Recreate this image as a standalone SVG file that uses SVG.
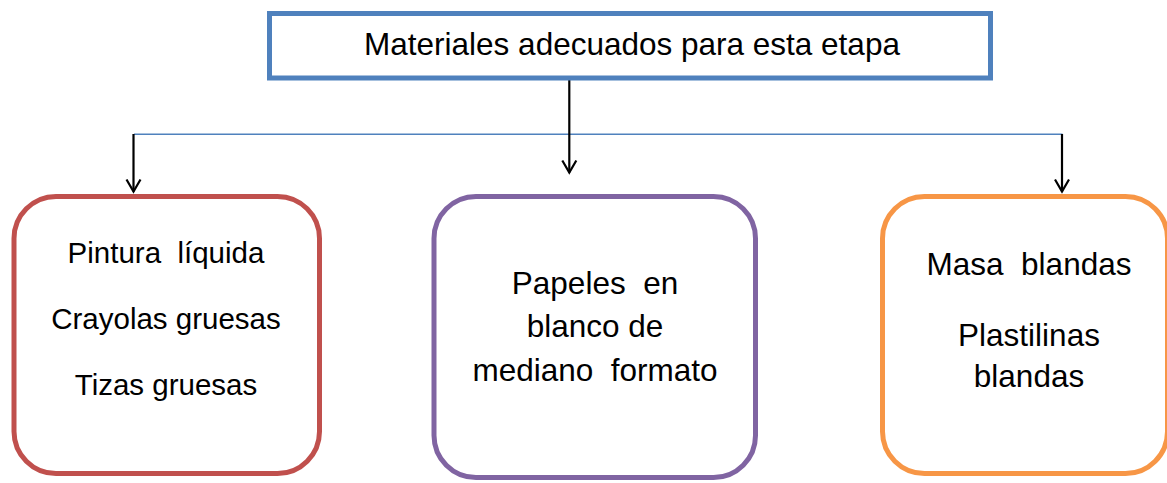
<svg xmlns="http://www.w3.org/2000/svg" width="1167" height="483" viewBox="0 0 1167 483">
  <style>
    .t { font-family: "Liberation Sans", Arial, sans-serif; fill: #000; text-anchor: middle; }
    .title { font-size: 31.5px; }
    .lbl { font-size: 29.5px; }
    .lbl2 { font-size: 31.5px; }
    .box { fill: #fff; stroke-width: 5; }
    .arrow { fill: none; stroke: #000; stroke-width: 2.2; marker-end: url(#vhead); }
    .bus { fill: none; stroke: #4F81BD; stroke-width: 1.6; }
  </style>
  <defs>
    <marker id="vhead" markerUnits="userSpaceOnUse" viewBox="-14 -9 16 18" refX="0" refY="0" markerWidth="16" markerHeight="18" orient="auto" overflow="visible">
      <path d="M-12,-7 L0,0 L-12,7" fill="none" stroke="#000" stroke-width="2.2" stroke-linejoin="miter"/>
    </marker>
  </defs>
  <rect width="1167" height="483" fill="#fff"/>

  <g id="connectors">
    <line class="bus" x1="134" y1="134.3" x2="1062.5" y2="134.3"/>
    <path class="arrow" d="M569.3,80 L569.3,172.5"/>
    <path class="arrow" d="M133.5,134 L133.5,191.5"/>
    <path class="arrow" d="M1062,134 L1062,191.5"/>
  </g>

  <g id="node-title">
    <rect class="box" x="269.5" y="13.5" width="721" height="64.5" stroke="#4F81BD"/>
    <text class="t title" x="632" y="55">Materiales adecuados para esta etapa</text>
  </g>

  <g id="node-pintura">
    <rect class="box" x="14" y="196.5" width="305.5" height="277" rx="42" ry="42" stroke="#C0504D"/>
    <text class="t lbl" x="166" y="263" xml:space="preserve">Pintura  líquida</text>
    <text class="t lbl" x="166" y="329">Crayolas gruesas</text>
    <text class="t lbl" x="166" y="395">Tizas gruesas</text>
  </g>

  <g id="node-papeles">
    <rect class="box" x="434" y="196.5" width="321.5" height="281" rx="42" ry="42" stroke="#8064A2"/>
    <text class="t lbl2" x="595" y="294" xml:space="preserve">Papeles  en</text>
    <text class="t lbl2" x="595" y="337">blanco de</text>
    <text class="t lbl2" x="595" y="381" xml:space="preserve">mediano  formato</text>
  </g>

  <g id="node-masa">
    <rect class="box" x="882.5" y="196.5" width="285" height="277" rx="42" ry="42" stroke="#F79646"/>
    <text class="t lbl2" x="1029" y="275" xml:space="preserve">Masa  blandas</text>
    <text class="t lbl2" x="1029" y="346">Plastilinas</text>
    <text class="t lbl2" x="1029" y="387">blandas</text>
  </g>
</svg>
